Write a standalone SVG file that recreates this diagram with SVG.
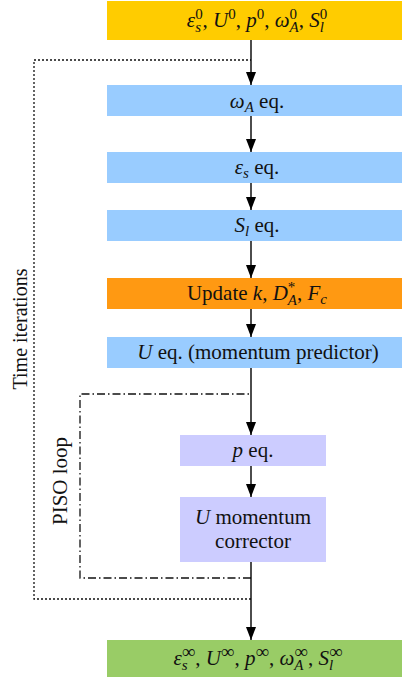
<svg xmlns="http://www.w3.org/2000/svg" width="402" height="679" viewBox="0 0 402 679">
  <style>
    text { font-family: "Liberation Serif", "Times New Roman", serif; font-size: 21px; fill: #111; }
    .c { text-anchor: middle; }
    .i { font-style: italic; }
    .s { font-size: 15px; }
    .inf { font-size: 19px; }
    .side { font-size: 20px; }
    .flow { stroke: #000; stroke-width: 1.4; fill: none; }
    .time { stroke: #111; stroke-width: 1.3; fill: none; stroke-dasharray: 2 2; }
    .piso { stroke: #111; stroke-width: 1.3; fill: none; stroke-dasharray: 8 3 1.5 3; }
    .init { fill: #FFCC00; }
    .eq { fill: #99CCFF; }
    .upd { fill: #FF9912; }
    .inner { fill: #CCCCFF; }
    .final { fill: #99CC66; }
  </style>
  <defs>
    <marker id="arr" viewBox="0 0 13 10" refX="13" refY="5" markerWidth="13" markerHeight="10" markerUnits="userSpaceOnUse" orient="auto">
      <path d="M0,0 L13,5 L0,10 Z" fill="#000"/>
    </marker>
  </defs>

  <!-- loop frames and flow arrows -->
  <g id="connectors">
    <path class="time" d="M251,599 H34 V60 H251"/>
    <path class="piso" d="M251,578 H80 V394 H251"/>
    <line class="flow" x1="251" y1="40" x2="251" y2="85" marker-end="url(#arr)"/>
    <line class="flow" x1="251" y1="116" x2="251" y2="152" marker-end="url(#arr)"/>
    <line class="flow" x1="251" y1="183" x2="251" y2="210" marker-end="url(#arr)"/>
    <line class="flow" x1="251" y1="241" x2="251" y2="278" marker-end="url(#arr)"/>
    <line class="flow" x1="251" y1="309" x2="251" y2="337" marker-end="url(#arr)"/>
    <line class="flow" x1="251" y1="368" x2="251" y2="435" marker-end="url(#arr)"/>
    <line class="flow" x1="251" y1="466" x2="251" y2="497" marker-end="url(#arr)"/>
    <line class="flow" x1="251" y1="562" x2="251" y2="640" marker-end="url(#arr)"/>
  </g>

  <g id="label-time">
    <text class="c side" transform="translate(27,329) rotate(-90)">Time iterations</text>
  </g>
  <g id="label-piso">
    <text class="c" transform="translate(67,481) rotate(-90)">PISO loop</text>
  </g>

  <g id="init">
    <rect class="init" x="107" y="1" width="301" height="39"/>
    <text class="c" x="257" y="27"><tspan class="i">ε</tspan><tspan class="s" dy="-8">0</tspan><tspan class="s i" dx="-7.5" dy="13">s</tspan><tspan dx="1.5" dy="-5">, </tspan><tspan class="i">U</tspan><tspan class="s" dy="-8">0</tspan><tspan dy="8">, </tspan><tspan class="i">p</tspan><tspan class="s" dy="-8">0</tspan><tspan dy="8">, </tspan><tspan class="i">ω</tspan><tspan class="s" dy="-8">0</tspan><tspan class="s i" dx="-7.5" dy="13">A</tspan><tspan dy="-5">, </tspan><tspan class="i">S</tspan><tspan class="s" dy="-8">0</tspan><tspan class="s i" dx="-7.5" dy="13">l</tspan></text>
  </g>

  <g id="omega-eq">
    <rect class="eq" x="107" y="85" width="301" height="31"/>
    <text class="c" x="257" y="108"><tspan class="i">ω</tspan><tspan class="s i" dy="4">A</tspan><tspan dy="-4"> eq.</tspan></text>
  </g>

  <g id="eps-eq">
    <rect class="eq" x="107" y="152" width="301" height="31"/>
    <text class="c" x="257" y="174"><tspan class="i">ε</tspan><tspan class="s i" dy="4">s</tspan><tspan dy="-4"> eq.</tspan></text>
  </g>

  <g id="sl-eq">
    <rect class="eq" x="107" y="210" width="301" height="31"/>
    <text class="c" x="257" y="232"><tspan class="i">S</tspan><tspan class="s i" dy="4">l</tspan><tspan dy="-4"> eq.</tspan></text>
  </g>

  <g id="update">
    <rect class="upd" x="107" y="278" width="301" height="31"/>
    <text class="c" x="257" y="300">Update <tspan class="i">k</tspan>, <tspan class="i">D</tspan><tspan class="s" dy="-8">*</tspan><tspan class="s i" dx="-7.5" dy="13">A</tspan><tspan dy="-5">, </tspan><tspan class="i">F</tspan><tspan class="s i" dy="4">c</tspan></text>
  </g>

  <g id="u-predictor">
    <rect class="eq" x="107" y="337" width="301" height="31"/>
    <text class="c" x="258" y="359"><tspan class="i">U</tspan> eq. (momentum predictor)</text>
  </g>

  <g id="p-eq">
    <rect class="inner" x="180" y="435" width="146" height="31"/>
    <text class="c" x="253" y="457"><tspan class="i">p</tspan> eq.</text>
  </g>

  <g id="u-corrector">
    <rect class="inner" x="180" y="497" width="146" height="65"/>
    <text class="c" x="253" y="524"><tspan class="i">U</tspan> momentum</text>
    <text class="c" x="253" y="548">corrector</text>
  </g>

  <g id="final">
    <rect class="final" x="107" y="640" width="301" height="37"/>
    <text class="c" x="258" y="665"><tspan class="i">ε</tspan><tspan class="inf" dy="-7">∞</tspan><tspan class="s i" dx="-13.5" dy="12">s</tspan><tspan dx="7.5" dy="-5">, </tspan><tspan class="i">U</tspan><tspan class="inf" dy="-7">∞</tspan><tspan dy="7">, </tspan><tspan class="i">p</tspan><tspan class="inf" dy="-7">∞</tspan><tspan dy="7">, </tspan><tspan class="i">ω</tspan><tspan class="inf" dy="-7">∞</tspan><tspan class="s i" dx="-13.5" dy="12">A</tspan><tspan dx="4.5" dy="-5">, </tspan><tspan class="i">S</tspan><tspan class="inf" dy="-7">∞</tspan><tspan class="s i" dx="-13.5" dy="12">l</tspan></text>
  </g>
</svg>
